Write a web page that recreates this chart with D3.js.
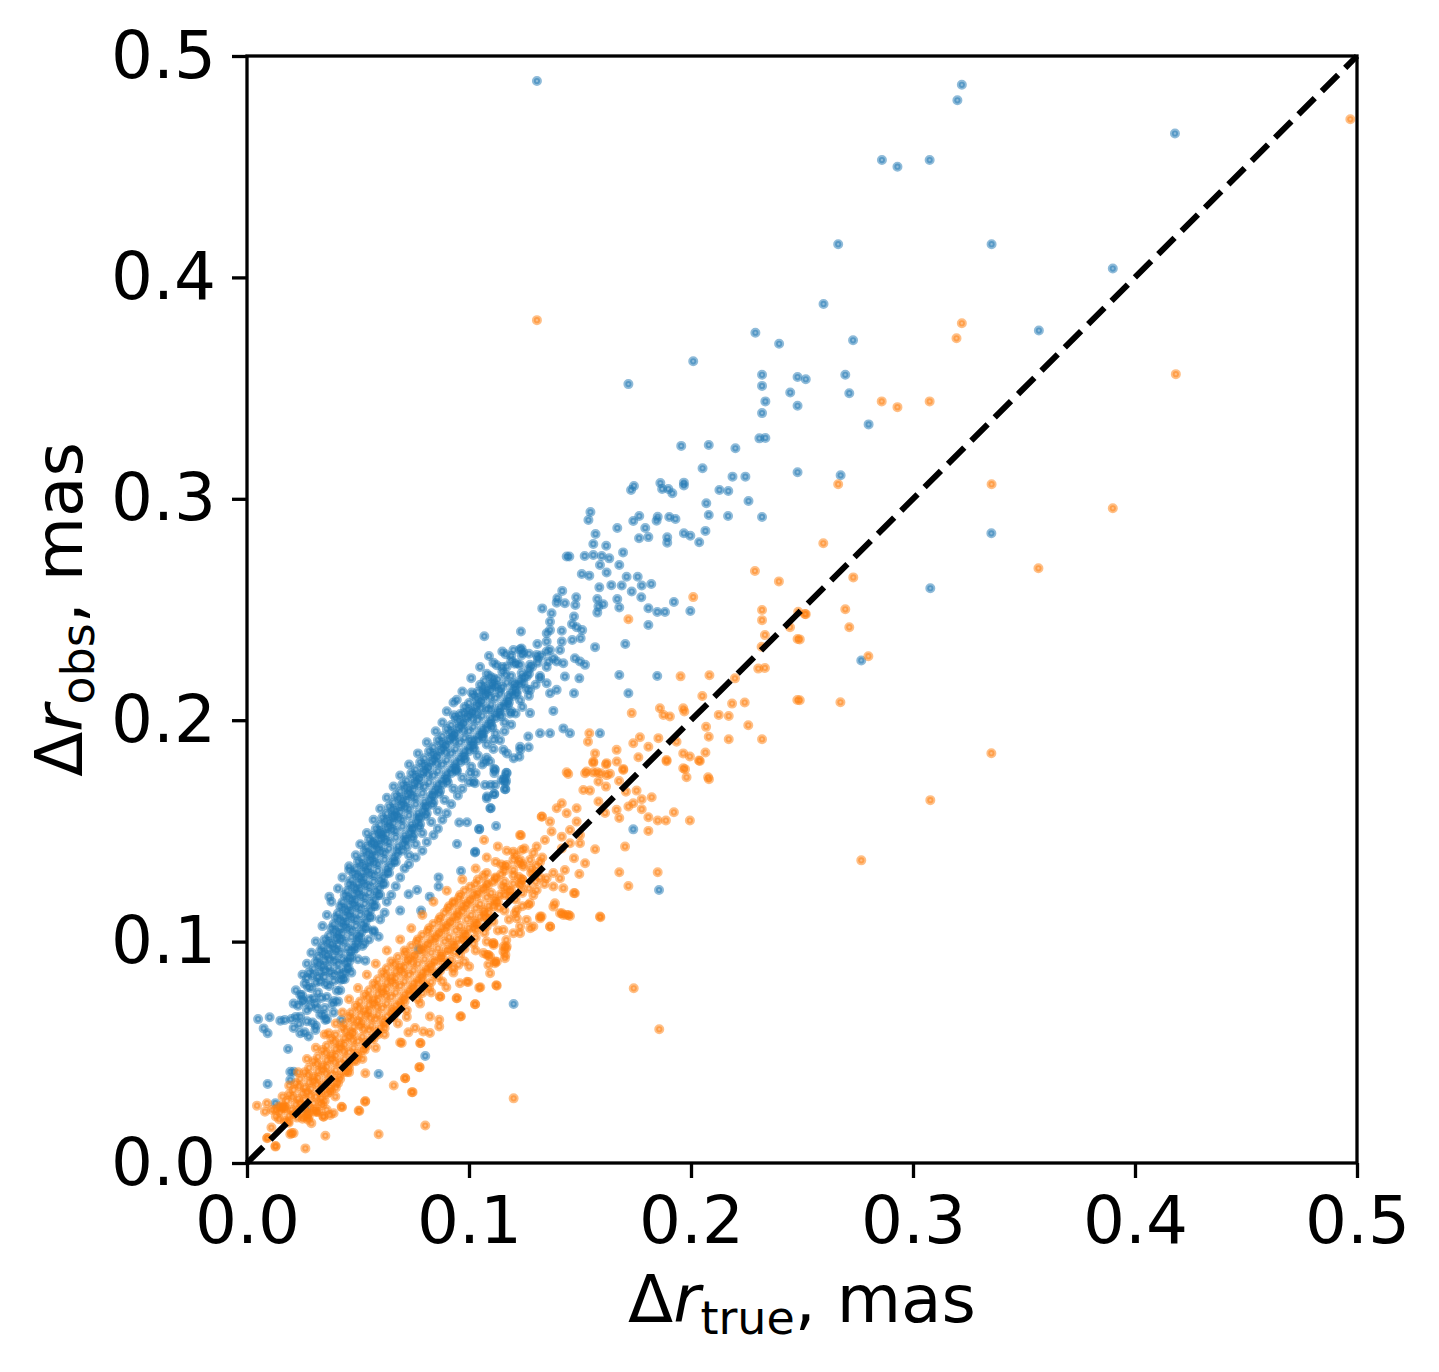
<!DOCTYPE html>
<html>
<head>
<meta charset="utf-8">
<script src="https://cdn.jsdelivr.net/npm/d3@7"></script>
<style>
  body { margin: 0; background: #fff; }
</style>
</head>
<body>
<svg id="chart" width="1439" height="1372"></svg>
<script>
// Δr_true vs Δr_obs (mas)
const blueSparse = [
  [0.1306,0.4887],[0.322,0.487],[0.320,0.480],[0.418,0.465],[0.286,0.453],[0.293,0.450],[0.3075,0.453],
  [0.2663,0.415],[0.3354,0.415],[0.390,0.404],[0.2597,0.388],[0.229,0.375],[0.2397,0.370],[0.273,0.3716],[0.3567,0.376],
  [0.232,0.356],[0.232,0.351],[0.248,0.355],[0.2517,0.354],[0.2695,0.356],[0.2447,0.348],[0.2713,0.3477],[0.2335,0.344],
  [0.248,0.342],[0.232,0.3387],[0.280,0.3336],[0.2308,0.3273],[0.2335,0.3275],[0.208,0.3243],[0.220,0.3228],[0.2052,0.3138],
  [0.2187,0.310],[0.2245,0.310],[0.248,0.312],[0.2674,0.3106],[0.2128,0.304],[0.2168,0.3035],[0.2069,0.298],[0.2259,0.299],
  [0.208,0.2927],[0.2167,0.2922],[0.232,0.2918],[0.201,0.3621],[0.1718,0.3518],[0.1956,0.3239],[0.1862,0.3071],[0.1968,0.3073],
  [0.1968,0.306],[0.1743,0.3058],[0.173,0.304],[0.187,0.3044],[0.1898,0.3044],[0.1916,0.3025],[0.1547,0.294],[0.1538,0.2904],
  [0.1767,0.2922],[0.174,0.290],[0.185,0.2919],[0.1845,0.2901],[0.1902,0.2918],[0.193,0.2909],[0.1668,0.2868],[0.1794,0.2868],
  [0.157,0.2841],[0.156,0.2796],[0.1618,0.2788],[0.1766,0.2822],[0.1808,0.2827],[0.1893,0.2826],[0.1893,0.2802],[0.1968,0.2844],
  [0.1997,0.2833],[0.2065,0.2855],[0.2037,0.2804],[0.3353,0.2844],[0.3078,0.2596],[0.2767,0.227]
];

const blueMid = [
  [0.144,0.2739],[0.1452,0.2739],[0.1521,0.2742],[0.156,0.2746],[0.1598,0.2742],[0.1632,0.2731],[0.1694,0.2758],[0.159,0.2701],[0.1677,0.2701],
  [0.1508,0.266],[0.1542,0.2653],[0.162,0.2667],[0.171,0.2648],[0.176,0.2648],[0.1641,0.261],[0.1688,0.2608],[0.1778,0.2608],[0.1821,0.2615],
  [0.1587,0.26],[0.142,0.2584],[0.1398,0.2551],[0.1483,0.2555],[0.1479,0.252],[0.1578,0.2547],[0.1583,0.2513],[0.1605,0.2524],[0.1578,0.2486],
  [0.1668,0.2547],[0.1677,0.2509],[0.1733,0.2581],[0.1776,0.2555],[0.1808,0.2506],[0.1848,0.2489],[0.1883,0.2489],[0.1923,0.2534],[0.1997,0.2493],[0.1808,0.243],
  [0.133,0.2505],[0.1372,0.2483],[0.1395,0.2531],[0.1432,0.2528],[0.1473,0.2468],[0.1464,0.2434],[0.1485,0.242],[0.151,0.2407],[0.1365,0.2445],
  [0.1069,0.2379],[0.1234,0.2401],[0.135,0.2393],[0.1365,0.2407],[0.1418,0.2404],[0.135,0.2355],[0.1418,0.2355],[0.1465,0.2362],[0.1503,0.237],[0.1308,0.2344],[0.1568,0.233],[0.1704,0.2344],
  [0.12,0.2317],[0.1237,0.2324],[0.1237,0.2294],[0.1365,0.2317],[0.141,0.2317],
  [0.117,0.2242],[0.1215,0.2257],[0.1275,0.225],[0.1305,0.2295],[0.1357,0.2265],[0.1395,0.2265],[0.1425,0.2257],[0.1477,0.228],[0.15,0.2265],[0.1523,0.225],
  [0.1677,0.2204],[0.1848,0.22],[0.1497,0.2189],[0.1432,0.2197],[0.135,0.2167],[0.132,0.2189],[0.126,0.2197],[0.12,0.2167],[0.1237,0.2212],
  [0.1718,0.2122],[0.1473,0.2122],[0.1395,0.2137],[0.1365,0.2122],[0.1275,0.2137],[0.1215,0.213],[0.114,0.2137],[0.111,0.2152],[0.1065,0.213],[0.1012,0.2125],[0.0945,0.2092],
  [0.138,0.2042],[0.1275,0.2032],[0.1185,0.203],[0.1095,0.2048],[0.1035,0.203],[0.0975,0.203],
  [0.159,0.1941],[0.1455,0.1941],[0.1425,0.1963],[0.1365,0.1941],[0.132,0.1941],[0.1267,0.1926],[0.123,0.188],[0.1155,0.1866],[0.111,0.1911],[0.1065,0.1941],[0.1005,0.1911],[0.093,0.1926],
  [0.1162,0.1743],[0.1114,0.1761],[0.1005,0.1761],[0.0945,0.1775]
];

const blueLow = [
  [0.0371,0.1203],[0.046,0.1323],[0.0568,0.1444],[0.06,0.1485],[0.0656,0.157],[0.069,0.114],[0.0784,0.114],[0.0728,0.1214],[0.0766,0.1233],
  [0.0823,0.1203],[0.0863,0.129],[0.0863,0.1249],[0.0964,0.1319],[0.1028,0.1406],[0.0946,0.1441],[0.1046,0.1509],[0.1122,0.1522],[0.0956,0.1538],
  [0.0991,0.1539],[0.1096,0.1602],[0.1081,0.1655],[0.1114,0.1666],[0.1118,0.1707],[0.1164,0.1718],[0.1164,0.1688],[0.1114,0.178],[0.1168,0.1763],
  [0.1156,0.173],[0.0932,0.2022],[0.0533,0.0914],[0.0593,0.1022],[0.0529,0.0993],[0.0571,0.1045],[0.0458,0.0879],[0.042,0.0827],[0.0393,0.0732],[0.1201,0.0718],
  [0.1269,0.1878],[0.1231,0.1866],[0.1201,0.1828],[0.1227,0.1835],[0.1171,0.185],
  [0.005,0.065],[0.0102,0.0658],[0.015,0.0643],[0.017,0.0646],[0.0075,0.0608],[0.0093,0.0586],[0.0248,0.0759],[0.0248,0.0736],[0.03,0.0744],
  [0.0285,0.0706],[0.0315,0.0699],[0.024,0.0661],[0.024,0.0586],[0.0278,0.0571],[0.0308,0.0601],[0.0353,0.0646],[0.0425,0.0646],[0.0185,0.0515],
  [0.0195,0.0412],[0.021,0.0412],[0.0195,0.0375],[0.0093,0.0357],[0.0128,0.027],[0.0593,0.0402],[0.0803,0.0483],[0.0773,0.0965],[0.0267,0.0243],
  [0.174,0.1507],[0.1856,0.1233],[0.1046,0.1507],[0.1027,0.1403],[0.1098,0.1602],[0.108,0.1647],[0.1113,0.1667],[0.1162,0.1688],[0.1167,0.1727],
  [0.1147,0.173],[0.1098,0.1707],[0.1072,0.1707],[0.1019,0.1722],[0.1027,0.1715],[0.1117,0.1776],[0.117,0.1761],[0.1072,0.1813],[0.1095,0.1813]
];

// dense blue band, row by row
const blueBand = [
  [0.021,0.061],[0.026,0.059],[0.031,0.062],
  [0.022,0.066],[0.027,0.064],[0.033,0.067],[0.036,0.065],
  [0.023,0.071],[0.027,0.069],[0.031,0.072],[0.035,0.070],[0.039,0.068],
  [0.024,0.076],[0.028,0.074],[0.032,0.077],[0.036,0.075],[0.041,0.073],
  [0.026,0.081],[0.029,0.079],[0.033,0.082],[0.037,0.080],[0.042,0.078],[0.044,0.083],
  [0.027,0.0835],[0.031,0.0815],[0.035,0.0840],[0.039,0.0822],
  [0.028,0.086],[0.032,0.084],[0.035,0.087],[0.039,0.085],[0.043,0.083],
  [0.030,0.0878],[0.033,0.0862],[0.037,0.0885],[0.041,0.0870],[0.044,0.0860],
  [0.031,0.091],[0.034,0.089],[0.037,0.092],[0.041,0.090],[0.045,0.088],[0.047,0.093],
  [0.032,0.0930],[0.035,0.0915],[0.039,0.0935],[0.043,0.0920],[0.046,0.0910],
  [0.033,0.096],[0.036,0.094],[0.039,0.097],[0.042,0.095],[0.046,0.093],[0.049,0.097],
  [0.034,0.0978],[0.037,0.0965],[0.041,0.0985],[0.045,0.0970],[0.048,0.0960],
  [0.035,0.101],[0.038,0.099],[0.041,0.102],[0.044,0.100],[0.048,0.098],[0.051,0.102],
  [0.037,0.1028],[0.040,0.1012],[0.043,0.1035],[0.047,0.1020],[0.050,0.1010],
  [0.038,0.106],[0.041,0.104],[0.044,0.107],[0.047,0.105],[0.050,0.103],[0.054,0.106],
  [0.039,0.1078],[0.042,0.1062],[0.045,0.1085],[0.049,0.1070],[0.053,0.1060],
  [0.040,0.111],[0.043,0.109],[0.046,0.112],[0.049,0.110],[0.052,0.108],[0.056,0.111],
  [0.041,0.1128],[0.044,0.1112],[0.047,0.1135],[0.051,0.1120],[0.055,0.1110],
  [0.042,0.116],[0.045,0.114],[0.048,0.117],[0.051,0.115],[0.054,0.113],[0.058,0.116],
  [0.043,0.1178],[0.046,0.1162],[0.049,0.1185],[0.053,0.1170],[0.057,0.1160],
  [0.044,0.121],[0.047,0.119],[0.050,0.122],[0.053,0.120],[0.056,0.118],[0.060,0.121],
  [0.045,0.1228],[0.048,0.1212],[0.051,0.1235],[0.055,0.1220],[0.059,0.1210],
  [0.046,0.126],[0.049,0.124],[0.052,0.127],[0.055,0.125],[0.058,0.123],[0.062,0.126],
  [0.047,0.1278],[0.050,0.1262],[0.053,0.1285],[0.057,0.1270],[0.061,0.1260],
  [0.048,0.131],[0.051,0.129],[0.054,0.132],[0.057,0.130],[0.060,0.128],[0.064,0.131],
  [0.049,0.1328],[0.052,0.1312],[0.055,0.1335],[0.059,0.1320],[0.063,0.1310],
  [0.050,0.136],[0.053,0.134],[0.056,0.137],[0.059,0.135],[0.063,0.133],[0.067,0.136],
  [0.052,0.1378],[0.055,0.1362],[0.058,0.1385],[0.062,0.1370],[0.066,0.1360],
  [0.053,0.141],[0.056,0.139],[0.059,0.142],[0.062,0.140],[0.066,0.138],[0.070,0.141],[0.073,0.139],
  [0.054,0.1428],[0.057,0.1412],[0.060,0.1435],[0.064,0.1420],[0.068,0.1410],[0.072,0.1430],
  [0.055,0.146],[0.058,0.144],[0.061,0.147],[0.064,0.145],[0.068,0.143],[0.072,0.146],[0.076,0.144],
  [0.057,0.1478],[0.060,0.1462],[0.063,0.1485],[0.067,0.1470],[0.071,0.1460],[0.075,0.1480],
  [0.058,0.151],[0.061,0.149],[0.064,0.152],[0.067,0.150],[0.071,0.148],[0.075,0.151],[0.079,0.149],
  [0.060,0.1528],[0.063,0.1512],[0.066,0.1535],[0.070,0.1520],[0.074,0.1510],[0.078,0.1530],
  [0.061,0.156],[0.064,0.154],[0.067,0.157],[0.070,0.155],[0.074,0.153],[0.078,0.156],[0.083,0.154],
  [0.063,0.1578],[0.066,0.1562],[0.069,0.1585],[0.073,0.1570],[0.077,0.1560],[0.081,0.1580],
  [0.064,0.161],[0.067,0.159],[0.070,0.162],[0.073,0.160],[0.077,0.158],[0.081,0.161],[0.086,0.159],
  [0.066,0.1628],[0.069,0.1612],[0.072,0.1635],[0.076,0.1620],[0.080,0.1610],[0.084,0.1630],
  [0.067,0.166],[0.070,0.164],[0.073,0.167],[0.076,0.165],[0.080,0.163],[0.084,0.166],[0.089,0.164],
  [0.069,0.1678],[0.072,0.1662],[0.075,0.1685],[0.079,0.1670],[0.083,0.1660],[0.087,0.1680],
  [0.070,0.171],[0.073,0.169],[0.076,0.172],[0.080,0.170],[0.084,0.168],[0.088,0.171],[0.093,0.169],
  [0.072,0.1728],[0.075,0.1712],[0.078,0.1735],[0.082,0.1720],[0.086,0.1710],[0.090,0.1730],
  [0.074,0.176],[0.077,0.174],[0.080,0.177],[0.084,0.175],[0.088,0.173],[0.092,0.176],[0.097,0.174],
  [0.076,0.1778],[0.079,0.1762],[0.082,0.1785],[0.086,0.1770],[0.090,0.1760],[0.094,0.1780],
  [0.078,0.181],[0.081,0.179],[0.084,0.182],[0.088,0.180],[0.092,0.178],[0.096,0.181],[0.101,0.179],
  [0.080,0.1828],[0.083,0.1812],[0.086,0.1835],[0.090,0.1820],[0.094,0.1810],[0.098,0.1830],
  [0.082,0.186],[0.085,0.184],[0.088,0.187],[0.092,0.185],[0.096,0.183],[0.100,0.186],[0.104,0.184],
  [0.084,0.1878],[0.087,0.1862],[0.090,0.1885],[0.094,0.1870],[0.098,0.1860],[0.102,0.1880],
  [0.086,0.191],[0.089,0.189],[0.092,0.192],[0.096,0.190],[0.100,0.188],[0.104,0.191],[0.108,0.189],
  [0.088,0.1928],[0.091,0.1912],[0.094,0.1935],[0.098,0.1920],[0.102,0.1910],[0.106,0.1930],
  [0.090,0.196],[0.093,0.194],[0.096,0.197],[0.100,0.195],[0.104,0.193],[0.108,0.196],[0.112,0.194],
  [0.092,0.1978],[0.095,0.1962],[0.098,0.1985],[0.102,0.1970],[0.106,0.1960],[0.110,0.1980],
  [0.094,0.201],[0.097,0.199],[0.100,0.202],[0.104,0.200],[0.108,0.198],[0.112,0.201],[0.116,0.199],
  [0.096,0.2028],[0.099,0.2012],[0.102,0.2035],[0.106,0.2020],[0.110,0.2010],[0.114,0.2030],
  [0.098,0.206],[0.101,0.204],[0.104,0.207],[0.108,0.205],[0.112,0.203],[0.116,0.206],[0.119,0.204],
  [0.100,0.2078],[0.103,0.2062],[0.106,0.2085],[0.110,0.2070],[0.114,0.2060],[0.118,0.2080],
  [0.102,0.211],[0.105,0.209],[0.108,0.212],[0.112,0.210],[0.116,0.208],[0.120,0.211],[0.123,0.209],
  [0.104,0.2128],[0.107,0.2112],[0.110,0.2135],[0.114,0.2120],[0.118,0.2110],
  [0.105,0.216],[0.108,0.214],[0.111,0.217],[0.115,0.215],[0.119,0.213],[0.123,0.216],[0.126,0.214],
  [0.107,0.2178],[0.110,0.2162],[0.113,0.2185],[0.117,0.2170],[0.121,0.2160],
  [0.108,0.221],[0.111,0.219],[0.115,0.222],[0.119,0.220],[0.123,0.218],[0.127,0.221],
  [0.111,0.226],[0.115,0.224],[0.119,0.227],[0.123,0.225],[0.127,0.223],[0.131,0.226],
  [0.115,0.231],[0.119,0.229],[0.123,0.232],[0.127,0.230],[0.131,0.228],[0.135,0.231]
];

// points between the band rows
const blueFill = [
  [0.0235,0.0628],[0.0295,0.0635],[0.0345,0.0668],
  [0.0255,0.0728],[0.0335,0.0745],[0.0385,0.0718],
  [0.0275,0.0795],[0.0355,0.0808],[0.0405,0.0778],
  [0.0295,0.0848],[0.0375,0.0862],[0.0425,0.0852],
  [0.0325,0.0898],[0.0395,0.0912],[0.0445,0.0905],
  [0.0345,0.0948],[0.0405,0.0962],[0.0465,0.0955],
  [0.0365,0.0998],[0.0425,0.1008],[0.0495,0.0995],
  [0.0395,0.1048],[0.0455,0.1058],[0.0515,0.1042],
  [0.0415,0.1098],[0.0475,0.1105],[0.0535,0.1092],
  [0.0435,0.1148],[0.0495,0.1155],[0.0555,0.1142],
  [0.0455,0.1198],[0.0515,0.1205],[0.0575,0.1192],
  [0.0475,0.1248],[0.0535,0.1255],[0.0595,0.1242],
  [0.0495,0.1298],[0.0555,0.1305],[0.0615,0.1292],
  [0.0515,0.1348],[0.0575,0.1355],[0.0645,0.1342],
  [0.0545,0.1398],[0.0605,0.1405],[0.0675,0.1392],
  [0.0565,0.1448],[0.0625,0.1455],[0.0705,0.1442],[0.0745,0.1468],
  [0.0595,0.1498],[0.0655,0.1505],[0.0735,0.1492],[0.0775,0.1518],
  [0.0625,0.1548],[0.0685,0.1555],[0.0765,0.1542],[0.0805,0.1568],
  [0.0655,0.1598],[0.0715,0.1605],[0.0795,0.1592],[0.0835,0.1618],
  [0.0685,0.1648],[0.0745,0.1655],[0.0825,0.1642],[0.0865,0.1668],
  [0.0715,0.1698],[0.0775,0.1705],[0.0855,0.1692],[0.0905,0.1718],
  [0.0755,0.1748],[0.0815,0.1755],[0.0895,0.1742],[0.0945,0.1768],
  [0.0795,0.1798],[0.0855,0.1805],[0.0935,0.1792],[0.0985,0.1818],
  [0.0835,0.1848],[0.0895,0.1855],[0.0975,0.1842],[0.1025,0.1868],
  [0.0875,0.1898],[0.0935,0.1905],[0.1015,0.1892],[0.1065,0.1918],
  [0.0915,0.1948],[0.0975,0.1955],[0.1055,0.1942],[0.1105,0.1968],
  [0.0955,0.1998],[0.1015,0.2005],[0.1095,0.1992],[0.1145,0.2018],
  [0.0995,0.2048],[0.1055,0.2055],[0.1135,0.2042],[0.1175,0.2068],
  [0.1035,0.2098],[0.1095,0.2105],[0.1175,0.2092],[0.1215,0.2118],
  [0.1065,0.2148],[0.1125,0.2155],[0.1205,0.2142],[0.1245,0.2168],
  [0.1095,0.2198],[0.1165,0.2205],[0.1245,0.2192],
  [0.1125,0.2248],[0.1205,0.2255],[0.1285,0.2242],
  [0.1165,0.2298],[0.1245,0.2305],[0.1325,0.2292],
  [0.088,0.199],[0.090,0.204],[0.093,0.208],[0.097,0.213],[0.101,0.219],[0.105,0.224],[0.109,0.229]
];

// ragged edges of the blue band
const blueEdge = [
  [0.047,0.086],[0.050,0.092],[0.052,0.098],[0.055,0.101],[0.057,0.105],[0.060,0.110],[0.062,0.113],[0.063,0.118],
  [0.065,0.121],[0.067,0.125],[0.069,0.129],[0.071,0.133],[0.073,0.135],[0.076,0.138],[0.079,0.141],[0.081,0.145],
  [0.084,0.148],[0.086,0.151],[0.088,0.155],[0.090,0.158],[0.092,0.162],[0.095,0.166],[0.097,0.169],[0.100,0.172],
  [0.103,0.176],[0.106,0.180],[0.108,0.183],[0.111,0.187],[0.114,0.191],[0.116,0.195],[0.119,0.198],[0.121,0.203],
  [0.124,0.206],[0.127,0.211],[0.130,0.216],[0.132,0.220],[0.135,0.224],[0.138,0.228],
  [0.020,0.065],[0.021,0.072],[0.022,0.078],[0.025,0.085],[0.027,0.090],[0.029,0.095],[0.031,0.100],[0.034,0.107],
  [0.036,0.112],[0.038,0.118],[0.041,0.124],[0.043,0.129],[0.046,0.134],[0.049,0.139],[0.051,0.144],[0.054,0.149],
  [0.057,0.155],[0.060,0.160],[0.063,0.165],[0.066,0.170],[0.069,0.175],[0.073,0.180],[0.077,0.185],[0.081,0.190],[0.085,0.195]
];

const orangeSparse = [
  [0.1306,0.3807],[0.497,0.4714],[0.322,0.3793],[0.3196,0.3725],[0.4184,0.3563],[0.2859,0.344],[0.293,0.3414],[0.3075,0.344],
  [0.2663,0.3066],[0.3354,0.3066],[0.390,0.2957],[0.2596,0.2799],[0.2731,0.2645],[0.3565,0.2686],[0.2517,0.2479],[0.2695,0.2501],
  [0.2713,0.242],[0.249,0.2365],[0.2799,0.2289],[0.249,0.209],[0.2673,0.2081],[0.3353,0.1851],[0.3078,0.1639],[0.2767,0.1367],
  [0.2288,0.2674],[0.2396,0.2627],[0.201,0.2556],[0.1718,0.2456],[0.232,0.2498],[0.232,0.2452],[0.2333,0.2385],[0.2318,0.2332],
  [0.2483,0.249],[0.2513,0.248],[0.2446,0.242],[0.248,0.2367],[0.2303,0.2233],[0.2333,0.2236],[0.1953,0.2198],[0.2083,0.2203],
  [0.2198,0.2189],[0.2051,0.2109],[0.2185,0.2075],[0.2242,0.208],[0.2479,0.2091],[0.186,0.2054],[0.1965,0.2054],[0.197,0.2039],
  [0.1733,0.2032],[0.1876,0.2024],[0.1905,0.2017],[0.2125,0.2024],[0.217,0.2019],[0.2258,0.1977],[0.2068,0.197],[0.208,0.1925],
  [0.217,0.1914],[0.232,0.1914],[0.1542,0.1941],[0.1536,0.1903],[0.177,0.1923],[0.1853,0.1919],[0.174,0.1896],[0.1808,0.188],
  [0.1935,0.1903],[0.1568,0.185],[0.1665,0.1866],[0.156,0.1813],[0.162,0.1806],[0.1763,0.1833],[0.189,0.182],[0.1965,0.185],
  [0.1995,0.1836],[0.2036,0.1818],[0.2065,0.1854],
  [0.144,0.1765],[0.153,0.1768],[0.1577,0.1765],[0.1635,0.1758],[0.1695,0.178],[0.1965,0.1783],[0.2077,0.1742],
  [0.1447,0.1757],[0.1523,0.176],[0.156,0.1764],[0.1593,0.176],[0.162,0.1752],[0.156,0.1808],[0.1617,0.18],[0.1695,0.1775],
  [0.1676,0.1725],[0.1666,0.1813],[0.189,0.1815],[0.1973,0.1779],[0.198,0.1742],[0.204,0.1816],[0.2081,0.1733],[0.1515,0.1685],
  [0.1545,0.1682],[0.1583,0.1723],[0.1617,0.17],
  [0.1707,0.1677],[0.1755,0.1682],[0.1823,0.1652],[0.1778,0.1643],[0.174,0.1625],[0.1718,0.161],[0.1778,0.1598],[0.1665,0.1595],
  [0.1677,0.1558],[0.1613,0.1581],[0.1583,0.1633],
  [0.1808,0.1562],[0.185,0.1547],[0.1887,0.1547],[0.1923,0.1584],[0.1995,0.1547],[0.1808,0.15],[0.1703,0.1429],[0.1568,0.1417],
  [0.1677,0.1313],[0.185,0.1313],[0.1718,0.1251],[0.159,0.1113],
  [0.1473,0.1219],[0.1497,0.1305],[0.1523,0.1354],[0.1473,0.1377],[0.1432,0.1323],[0.144,0.112],[0.141,0.1128],[0.1365,0.1068],[0.132,0.1113],
  [0.1327,0.1564],[0.1395,0.1602],[0.1418,0.1625],[0.144,0.158],[0.1485,0.1602],[0.1485,0.1542],[0.1365,0.1542],[0.1372,0.1497],
  [0.1342,0.1459],[0.1418,0.1474],[0.1455,0.1504],[0.15,0.1481],[0.1455,0.1444],[0.15,0.1444],[0.1418,0.1421],
  [0.123,0.1481],[0.1068,0.1459],[0.12,0.1406],[0.1237,0.1414],[0.123,0.1369],[0.117,0.1346],[0.12,0.1323],[0.1245,0.1339],[0.1275,0.1369],[0.1305,0.1429],
  [0.1305,0.1233],[0.135,0.1286],[0.138,0.1249],[0.141,0.1286],[0.1425,0.1241],[0.1387,0.1173],[0.1275,0.1173],[0.1215,0.1143],
  [0.126,0.1098],[0.1327,0.1113],[0.1477,0.1218],
  [0.1155,0.1052],[0.12,0.1038],[0.123,0.1068],[0.111,0.0993],[0.117,0.0978],[0.1065,0.0948],[0.1095,0.0933],
  [0.1329,0.1565],[0.1234,0.148],[0.0931,0.1176]
];

const orangeLow = [
  [0.1592,0.111],[0.1742,0.0789],[0.1857,0.0604],[0.1201,0.0292],[0.0803,0.0169],[0.0593,0.013],[0.0353,0.0123],[0.0263,0.0066],
  [0.0128,0.0074],[0.009,0.0112],[0.0188,0.0182],[0.0195,0.013],[0.021,0.0135],[0.0045,0.0259],[0.009,0.027],[0.0113,0.024],
  [0.0143,0.0255],[0.0165,0.0247],[0.0255,0.0209],[0.0278,0.0209],[0.0308,0.0232],[0.0345,0.0209],[0.039,0.0225],[0.0428,0.0252],
  [0.0398,0.03],[0.0503,0.0237],[0.0533,0.028],[0.0533,0.0405],
  [0.0661,0.035],[0.0713,0.0383],[0.0743,0.032],[0.0778,0.0433],[0.069,0.0544],[0.078,0.0541],[0.0961,0.0662],[0.1028,0.0717],
  [0.0871,0.0751],[0.0946,0.0744],[0.1051,0.0794],[0.1123,0.0803],[0.0991,0.0819],[0.0898,0.0794],
  [0.1081,0.094],[0.1118,0.091],[0.1164,0.094],[0.1156,0.0978],[0.1168,0.1007],[0.1111,0.0985],[0.1216,0.1105],[0.1276,0.106],
  [0.1366,0.1067],[0.1419,0.1128],[0.1449,0.112],
  [0.1125,0.0801],[0.1046,0.0792],[0.1027,0.0717],[0.0964,0.0663],[0.1095,0.0857],[0.1087,0.0895],[0.1117,0.0902],[0.1162,0.0925],[0.1167,0.097],
  [0.0997,0.0818],[0.0959,0.0812],[0.0944,0.0744],[0.0869,0.0752],[0.0824,0.0662],[0.0866,0.0647],[0.0866,0.0617],[0.0824,0.0587],
  [0.0794,0.0594],[0.0757,0.061],[0.0727,0.059],[0.0782,0.0542],[0.0697,0.0542],[0.0776,0.0433],[0.0712,0.0383],[0.0746,0.032],
  [0.1001,0.0887],[0.0952,0.0895],[0.093,0.088],[0.0907,0.0902],
  [0.132,0.1105],[0.1425,0.112],[0.1455,0.1116],[0.138,0.1158],[0.1267,0.1165],[0.1207,0.1128],[0.129,0.1068],[0.123,0.1038],
  [0.111,0.0992],[0.1155,0.0955],[0.1087,0.094],[0.1125,0.0909],
  [0.0081,0.0232],[0.0156,0.0247],[0.0167,0.0255],[0.0093,0.0114],[0.0129,0.0077],[0.0186,0.0187],[0.0201,0.0135],[0.0426,0.0254],
  [0.0506,0.0235],[0.0532,0.0277],[0.0269,0.021],[0.0314,0.0232],[0.0359,0.024],[0.0344,0.021],[0.0374,0.0217],[0.0276,0.0225],
  [0.0368,0.0586]
];

// dense orange band, row by row
const orangeBand = [
  [0.013,0.021],[0.017,0.019],[0.021,0.022],[0.025,0.020],[0.029,0.018],
  [0.015,0.0230],[0.019,0.0215],[0.023,0.0235],[0.027,0.0222],
  [0.016,0.026],[0.020,0.024],[0.024,0.027],[0.028,0.025],[0.032,0.023],
  [0.018,0.0280],[0.022,0.0265],[0.026,0.0285],[0.030,0.0270],[0.034,0.0262],
  [0.019,0.031],[0.023,0.029],[0.027,0.032],[0.031,0.030],[0.035,0.028],[0.037,0.032],
  [0.021,0.0330],[0.025,0.0315],[0.029,0.0335],[0.033,0.0320],[0.036,0.0312],
  [0.022,0.036],[0.026,0.034],[0.030,0.037],[0.034,0.035],[0.038,0.033],[0.041,0.036],
  [0.024,0.0380],[0.028,0.0365],[0.032,0.0385],[0.036,0.0370],[0.040,0.0362],
  [0.026,0.041],[0.030,0.039],[0.034,0.042],[0.038,0.040],[0.042,0.038],[0.045,0.041],
  [0.028,0.0430],[0.032,0.0415],[0.036,0.0435],[0.040,0.0420],[0.044,0.0412],
  [0.030,0.046],[0.034,0.044],[0.038,0.047],[0.042,0.045],[0.046,0.043],[0.049,0.046],
  [0.032,0.0480],[0.036,0.0465],[0.040,0.0485],[0.044,0.0470],[0.048,0.0462],
  [0.034,0.051],[0.038,0.049],[0.042,0.052],[0.046,0.050],[0.050,0.048],[0.053,0.051],
  [0.036,0.0530],[0.040,0.0515],[0.044,0.0535],[0.048,0.0520],[0.052,0.0512],
  [0.038,0.056],[0.042,0.054],[0.046,0.057],[0.050,0.055],[0.054,0.053],[0.057,0.056],
  [0.040,0.0580],[0.044,0.0565],[0.048,0.0585],[0.052,0.0570],[0.056,0.0562],
  [0.043,0.061],[0.047,0.059],[0.051,0.062],[0.055,0.060],[0.059,0.058],[0.062,0.061],
  [0.044,0.0630],[0.048,0.0615],[0.052,0.0635],[0.056,0.0620],[0.060,0.0612],
  [0.046,0.066],[0.050,0.064],[0.054,0.067],[0.058,0.065],[0.062,0.063],[0.066,0.066],
  [0.047,0.0680],[0.051,0.0665],[0.055,0.0685],[0.059,0.0670],[0.063,0.0662],[0.067,0.0680],
  [0.049,0.071],[0.053,0.069],[0.057,0.072],[0.061,0.070],[0.065,0.068],[0.069,0.071],[0.072,0.069],
  [0.051,0.0730],[0.055,0.0715],[0.059,0.0735],[0.063,0.0720],[0.067,0.0712],[0.071,0.0730],
  [0.053,0.076],[0.057,0.074],[0.061,0.077],[0.065,0.075],[0.069,0.073],[0.073,0.076],[0.077,0.074],
  [0.055,0.0780],[0.059,0.0765],[0.063,0.0785],[0.067,0.0770],[0.071,0.0762],[0.075,0.0780],[0.079,0.0768],
  [0.057,0.081],[0.061,0.079],[0.065,0.082],[0.069,0.080],[0.073,0.078],[0.077,0.081],[0.082,0.079],
  [0.059,0.0830],[0.063,0.0815],[0.067,0.0835],[0.071,0.0820],[0.075,0.0812],[0.079,0.0830],[0.083,0.0818],
  [0.061,0.086],[0.065,0.084],[0.069,0.087],[0.073,0.085],[0.077,0.083],[0.081,0.086],[0.086,0.084],
  [0.063,0.0880],[0.067,0.0865],[0.071,0.0885],[0.075,0.0870],[0.079,0.0862],[0.083,0.0880],[0.087,0.0868],
  [0.065,0.091],[0.069,0.089],[0.073,0.092],[0.077,0.090],[0.081,0.088],[0.085,0.091],[0.090,0.089],
  [0.068,0.0930],[0.072,0.0915],[0.076,0.0935],[0.080,0.0920],[0.084,0.0912],[0.088,0.0930],[0.092,0.0918],
  [0.071,0.096],[0.075,0.094],[0.079,0.097],[0.083,0.095],[0.087,0.093],[0.091,0.096],[0.096,0.094],
  [0.074,0.0980],[0.078,0.0965],[0.082,0.0985],[0.086,0.0970],[0.090,0.0962],[0.094,0.0980],[0.098,0.0968],
  [0.077,0.101],[0.081,0.099],[0.085,0.102],[0.089,0.100],[0.093,0.098],[0.097,0.101],[0.102,0.099],
  [0.079,0.1030],[0.083,0.1015],[0.087,0.1035],[0.091,0.1020],[0.095,0.1012],[0.099,0.1030],[0.103,0.1018],
  [0.082,0.106],[0.086,0.104],[0.090,0.107],[0.094,0.105],[0.098,0.103],[0.102,0.106],[0.107,0.104],
  [0.084,0.1080],[0.088,0.1065],[0.092,0.1085],[0.096,0.1070],[0.100,0.1062],[0.104,0.1080],[0.108,0.1068],
  [0.087,0.111],[0.091,0.109],[0.095,0.112],[0.099,0.110],[0.103,0.108],[0.107,0.111],[0.111,0.109],
  [0.089,0.1130],[0.093,0.1115],[0.097,0.1135],[0.101,0.1120],[0.105,0.1112],[0.109,0.1130],
  [0.091,0.116],[0.095,0.114],[0.099,0.117],[0.103,0.115],[0.107,0.113],[0.111,0.116],[0.116,0.114],
  [0.093,0.1180],[0.097,0.1165],[0.101,0.1185],[0.105,0.1170],[0.109,0.1162],[0.113,0.1180],
  [0.096,0.121],[0.100,0.119],[0.104,0.122],[0.108,0.120],[0.112,0.118],[0.116,0.121],[0.121,0.119],[0.124,0.122],
  [0.098,0.1230],[0.102,0.1215],[0.106,0.1235],[0.110,0.1220],[0.114,0.1212],[0.118,0.1230],
  [0.103,0.126],[0.107,0.124],[0.111,0.127],[0.115,0.125],[0.119,0.123],[0.123,0.126],[0.127,0.124],[0.130,0.127],
  [0.104,0.1280],[0.108,0.1265],[0.112,0.1285],[0.116,0.1270],[0.120,0.1262],[0.124,0.1280],
  [0.108,0.131],[0.112,0.129],[0.116,0.132],[0.120,0.130],[0.124,0.128],[0.128,0.131],[0.132,0.129],
  [0.112,0.136],[0.116,0.134],[0.120,0.137],[0.124,0.135],[0.128,0.133],[0.132,0.136],
  [0.117,0.141],[0.121,0.139],[0.125,0.142],[0.129,0.140],[0.133,0.138]
];

// points between the band rows
const orangeFill = [
  [0.0145,0.0198],[0.0225,0.0205],[0.0275,0.0195],
  [0.0175,0.0248],[0.0255,0.0255],[0.0305,0.0242],
  [0.0205,0.0298],[0.0285,0.0305],[0.0335,0.0292],
  [0.0235,0.0348],[0.0315,0.0355],[0.0375,0.0342],
  [0.0275,0.0398],[0.0355,0.0405],[0.0415,0.0392],
  [0.0315,0.0448],[0.0395,0.0455],[0.0455,0.0442],
  [0.0355,0.0498],[0.0435,0.0505],[0.0495,0.0492],
  [0.0395,0.0548],[0.0475,0.0555],[0.0535,0.0542],
  [0.0445,0.0598],[0.0525,0.0605],[0.0585,0.0592],
  [0.0475,0.0648],[0.0555,0.0655],[0.0615,0.0642],
  [0.0505,0.0698],[0.0585,0.0705],[0.0655,0.0692],
  [0.0545,0.0748],[0.0625,0.0755],[0.0705,0.0742],
  [0.0585,0.0798],[0.0665,0.0805],[0.0745,0.0792],[0.0805,0.0803],
  [0.0625,0.0848],[0.0705,0.0855],[0.0785,0.0842],[0.0845,0.0853],
  [0.0665,0.0898],[0.0745,0.0905],[0.0825,0.0892],[0.0885,0.0903],
  [0.0715,0.0948],[0.0795,0.0955],[0.0875,0.0942],[0.0935,0.0953],
  [0.0765,0.0998],[0.0845,0.1005],[0.0925,0.0992],[0.0985,0.1003],
  [0.0815,0.1048],[0.0895,0.1055],[0.0975,0.1042],[0.1035,0.1053],
  [0.0865,0.1098],[0.0945,0.1105],[0.1025,0.1092],[0.1085,0.1103],
  [0.0905,0.1148],[0.0985,0.1155],[0.1065,0.1142],[0.1135,0.1153],
  [0.0955,0.1198],[0.1035,0.1205],[0.1115,0.1192],[0.1185,0.1203],
  [0.1005,0.1248],[0.1085,0.1255],[0.1165,0.1242],[0.1235,0.1253],
  [0.1065,0.1298],[0.1145,0.1305],[0.1225,0.1292],[0.1295,0.1303],
  [0.1145,0.1348],[0.1225,0.1355],[0.1305,0.1342]
];

// ragged edges of the orange band
const orangeEdge = [
  [0.011,0.016],[0.013,0.024],[0.016,0.030],[0.019,0.035],[0.023,0.041],[0.027,0.047],[0.031,0.052],[0.035,0.058],
  [0.040,0.063],[0.043,0.068],[0.046,0.074],[0.050,0.079],[0.054,0.085],[0.058,0.090],[0.063,0.096],[0.069,0.101],
  [0.074,0.106],[0.079,0.112],[0.084,0.118],[0.090,0.123],[0.097,0.128],[0.103,0.133],[0.108,0.138],[0.113,0.143],
  [0.033,0.027],[0.040,0.034],[0.046,0.041],[0.052,0.047],[0.058,0.052],[0.062,0.058],[0.068,0.063],[0.072,0.066],
  [0.078,0.072],[0.083,0.077],[0.088,0.082],[0.093,0.086],[0.098,0.091],[0.103,0.096],[0.108,0.100],[0.113,0.105],
  [0.118,0.110],[0.124,0.116],[0.129,0.121],[0.134,0.126],[0.138,0.131]
];

const identityLine = [[0, 0], [0.5, 0.5]];
const xTicks = [0.0, 0.1, 0.2, 0.3, 0.4, 0.5];
const yTicks = [0.0, 0.1, 0.2, 0.3, 0.4, 0.5];

const blueColor = "#1f77b4";
const orangeColor = "#ff7f0e";
const font = "DejaVu Sans";

const x = d3.scaleLinear().domain([0, 0.5]).range([247, 1357]);
const y = d3.scaleLinear().domain([0, 0.5]).range([1163, 56]);

const svg = d3.select("#chart");

function drawSeries(data, color) {
  svg.append("g")
    .selectAll("circle")
    .data(data)
    .join("circle")
    .attr("cx", d => x(d[0]))
    .attr("cy", d => y(d[1]))
    .attr("r", 3.1)
    .attr("fill", color)
    .attr("fill-opacity", 0.5)
    .attr("stroke", color)
    .attr("stroke-opacity", 0.5)
    .attr("stroke-width", 3.8);
}

drawSeries(blueBand.concat(blueFill, blueEdge, blueLow, blueMid, blueSparse), blueColor);
drawSeries(orangeBand.concat(orangeFill, orangeEdge, orangeLow, orangeSparse), orangeColor);

// y = x reference
svg.append("path")
  .datum(identityLine)
  .attr("d", d3.line().x(d => x(d[0])).y(d => y(d[1])))
  .attr("fill", "none")
  .attr("stroke", "#000")
  .attr("stroke-width", 6)
  .attr("stroke-dasharray", "23 10");

// axes
const fmt = d3.format(".1f");

svg.append("g")
  .attr("transform", `translate(0,${y(0)})`)
  .call(d3.axisBottom(x).tickValues(xTicks).tickFormat(fmt).tickSize(15).tickPadding(18))
  .call(g => g.select(".domain").remove())
  .call(g => g.selectAll(".tick line").attr("stroke", "#000").attr("stroke-width", 3.3))
  .call(g => g.selectAll(".tick text").attr("fill", "#000").attr("font-size", 66).attr("font-family", font));

svg.append("g")
  .attr("transform", `translate(${x(0)},0)`)
  .call(d3.axisLeft(y).tickValues(yTicks).tickFormat(fmt).tickSize(15).tickPadding(16))
  .call(g => g.select(".domain").remove())
  .call(g => g.selectAll(".tick line").attr("stroke", "#000").attr("stroke-width", 3.3))
  .call(g => g.selectAll(".tick text").attr("fill", "#000").attr("font-size", 66).attr("font-family", font));

// frame
svg.append("rect")
  .attr("x", x(0))
  .attr("y", y(0.5))
  .attr("width", x(0.5) - x(0))
  .attr("height", y(0) - y(0.5))
  .attr("fill", "none")
  .attr("stroke", "#000")
  .attr("stroke-width", 3.3);

// axis labels
function mathLabel(sel, sub) {
  sel.attr("font-family", font).attr("font-size", 66).attr("fill", "#000").attr("text-anchor", "middle");
  sel.append("tspan").text("Δ");
  sel.append("tspan").attr("font-style", "italic").text("r");
  sel.append("tspan").attr("font-size", 46).attr("dy", 12).text(sub);
  sel.append("tspan").attr("dy", -12).text(", mas");
}

mathLabel(svg.append("text").attr("x", (x(0) + x(0.5)) / 2).attr("y", 1322), "true");
mathLabel(svg.append("text").attr("transform", `translate(82,${(y(0) + y(0.5)) / 2}) rotate(-90)`), "obs");
</script>
</body>
</html>
